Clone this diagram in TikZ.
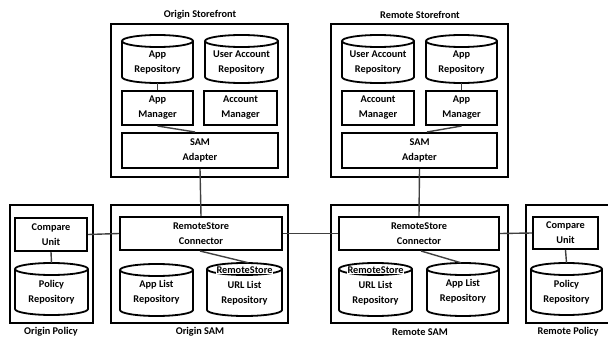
\documentclass[tikz,border=0pt]{standalone}
\usepackage{fontspec}
\setmainfont{Carlito}
\usetikzlibrary{calc}
\tikzset{
  every node/.style={font=\bfseries\fontsize{10.3}{15}\selectfont, align=center, inner sep=0pt},
  outerbox/.style={draw, line width=1.4pt, rectangle},
  innerbox/.style={draw, line width=2pt, rectangle},
  cylnode/.style={rectangle},
  cylline/.style={draw, line width=1.8pt, fill=white},
  conn/.style={draw=black!75, line width=1.4pt},
  title/.style={}
}
% name, cx, top (pixel y), width, height, text shift, text
\newcommand\dbcyl[7]{%
  \draw[cylline] ({#2-#4/2},{338-#3-6}) -- ({#2-#4/2},{338-#3-#5+6})
    arc[start angle=180,end angle=360,x radius={#4/2},y radius=6]
    -- ({#2+#4/2},{338-#3-6})
    arc[start angle=0,end angle=360,x radius={#4/2},y radius=6];
  \node[cylnode, minimum width=#4pt, minimum height=#5pt] (#1) at (#2,{338-#3-#5/2})
    {\raisebox{#6}[0pt][0pt]{\begin{tabular}{@{}c@{}}#7\end{tabular}}};
}
\begin{document}
\begin{tikzpicture}[x=1pt,y=1pt]
\useasboundingbox (0,0) rectangle (608,338);

% titles
\node[title] (tOS) at (200,323) {Origin Storefront};
\node[title] (tRS) at (420,323) {Remote Storefront};
\node[title] (tOP) at (51,6) {Origin Policy};
\node[title] (tOSAM) at (200,6) {Origin SAM};
\node[title] (tRSAM) at (420,6) {Remote SAM};
\node[title] (tRP) at (568,6) {Remote Policy};

% outer boxes
\node[outerbox, minimum width=177pt, minimum height=153pt] (os) at (199.5,237.5) {};
\node[outerbox, minimum width=177pt, minimum height=153pt] (rs) at (419.5,237.5) {};
\node[outerbox, minimum width=83pt, minimum height=118pt] (op) at (51.5,74) {};
\node[outerbox, minimum width=177pt, minimum height=118pt] (osam) at (199.5,74) {};
\node[outerbox, minimum width=177pt, minimum height=118pt] (rsam) at (419.5,74) {};
\node[outerbox, minimum width=84pt, minimum height=118pt] (rp) at (568,74) {};

% origin storefront
\dbcyl{osAR}{157.5}{35}{71}{48}{-6pt}{App\\Repository}
\dbcyl{osUAR}{241.5}{35}{73}{48}{-6pt}{User Account\\Repository}
\node[innerbox, minimum width=71pt, minimum height=34pt] (osAM) at (157.5,230) {App\\Manager};
\node[innerbox, minimum width=73pt, minimum height=34pt] (osAcc) at (240.5,230) {Account\\Manager};
\node[innerbox, minimum width=156pt, minimum height=35pt] (osSAM) at (200,187.5) {SAM\\Adapter};

% remote storefront
\dbcyl{rsUAR}{378}{35}{72}{48}{-6pt}{User Account\\Repository}
\dbcyl{rsAR}{461.5}{35}{71}{48}{-6pt}{App\\Repository}
\node[innerbox, minimum width=72pt, minimum height=34pt] (rsAcc) at (378,230) {Account\\Manager};
\node[innerbox, minimum width=71pt, minimum height=34pt] (rsAM) at (461.5,230) {App\\Manager};
\node[innerbox, minimum width=155pt, minimum height=35pt] (rsSAM) at (419.5,187.5) {SAM\\Adapter};

% origin policy
\node[innerbox, minimum width=72pt, minimum height=33pt] (opCU) at (51,103.5) {Compare\\Unit};
\dbcyl{opPR}{51.5}{263}{73}{52}{-5pt}{Policy\\Repository}

% origin SAM
\node[innerbox, minimum width=162pt, minimum height=33pt] (osConn) at (201,104.5) {RemoteStore\\Connector};
\dbcyl{osAL}{156.5}{264}{73}{52}{-4pt}{App List\\Repository}
\dbcyl{osURL}{244.5}{263}{75}{53}{1.5pt}{{\setlength\fboxsep{0.6pt}\colorbox{white}{RemoteStore}}\\URL List\\Repository}

% remote SAM
\node[innerbox, minimum width=160pt, minimum height=33pt] (rsConn) at (419,104.5) {RemoteStore\\Connector};
\dbcyl{rsURL}{375.5}{263}{73}{53}{1.5pt}{{\setlength\fboxsep{0.6pt}\colorbox{white}{RemoteStore}}\\URL List\\Repository}
\dbcyl{rsAL}{463}{263}{72}{53}{-4pt}{App List\\Repository}

% remote policy
\node[innerbox, minimum width=65pt, minimum height=32pt] (rpCU) at (565.5,105) {Compare\\Unit};
\dbcyl{rpPR}{566.5}{263}{71}{52}{-5pt}{Policy\\Repository}

% connectors
\draw[conn] (osAR.south) -- (osAM.north);
\draw[conn] (osAM.south) -- ([xshift=-5pt]osSAM.north);
\draw[conn] (osSAM.south) -- (osConn.north);
\draw[conn] (rsAR.south) -- (rsAM.north);
\draw[conn] (rsAM.south) -- ([xshift=7.5pt]rsSAM.north);
\draw[conn] (rsSAM.south) -- (rsConn.north);
\draw[conn] (opCU.east) -- (osConn.west);
\draw[conn] (osConn.east) -- (rsConn.west);
\draw[conn] (rsConn.east) -- (rpCU.west);
\draw[conn] (opCU.south) -- (opPR.north);
\draw[conn] (rpCU.south) -- (rpPR.north);
\draw[conn] ([xshift=-1pt]osConn.south) -- ([xshift=4pt]osURL.north);
\draw[conn] ([xshift=2pt]rsConn.south) -- ([xshift=-2pt]rsAL.north);
\end{tikzpicture}
\end{document}
